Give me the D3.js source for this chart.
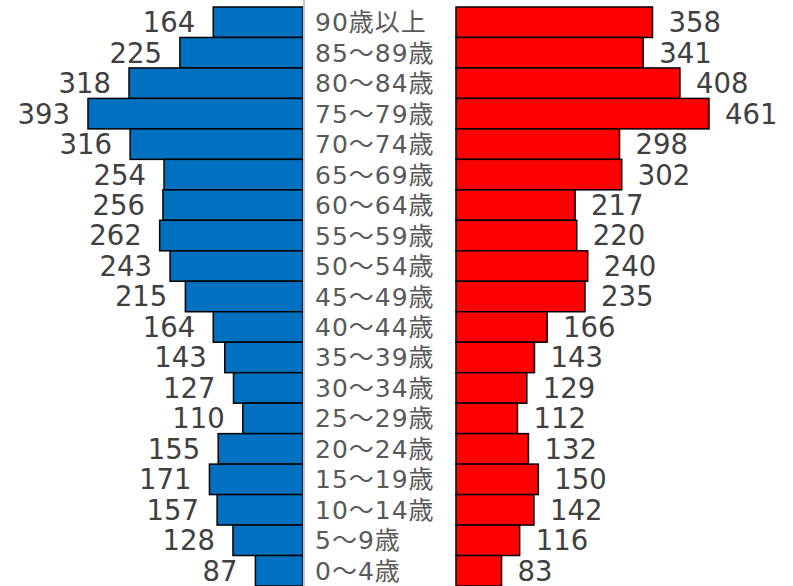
<!DOCTYPE html>
<html><head><meta charset="utf-8">
<script src="https://cdn.jsdelivr.net/npm/d3@7"></script>
<style>body{margin:0;background:#fff;}svg{display:block;}</style>
</head><body>
<script>
const categories = ["90歳以上","85～89歳","80～84歳","75～79歳","70～74歳","65～69歳","60～64歳","55～59歳","50～54歳","45～49歳","40～44歳","35～39歳","30～34歳","25～29歳","20～24歳","15～19歳","10～14歳","5～9歳","0～4歳"];
const male = [164,225,318,393,316,254,256,262,243,215,164,143,127,110,155,171,157,128,87];
const female = [358,341,408,461,298,302,217,220,240,235,166,143,129,112,132,150,142,116,83];

const W = 793, H = 586;
const svg = d3.select("body").append("svg").attr("width", W).attr("height", H);
const font = "'DejaVu Sans','Noto Sans CJK JP',sans-serif";

const y = d3.scaleBand().domain(categories).range([7, 586]).padding(0);
const xL = d3.scaleLinear().domain([0, 393]).range([303, 88]);
const xR = d3.scaleLinear().domain([0, 461]).range([456, 709]);

const rows = categories.map((c, i) => ({c, m: male[i], f: female[i]}));

svg.selectAll("rect.m").data(rows).join("rect").attr("class","m")
  .attr("x", d => xL(d.m)).attr("y", d => y(d.c))
  .attr("width", d => xL(0) - xL(d.m)).attr("height", y.bandwidth())
  .attr("fill", "#0070C0").attr("stroke", "#000").attr("stroke-width", 1.5);

svg.selectAll("rect.f").data(rows).join("rect").attr("class","f")
  .attr("x", xR(0)).attr("y", d => y(d.c))
  .attr("width", d => xR(d.f) - xR(0)).attr("height", y.bandwidth())
  .attr("fill", "#FF0000").attr("stroke", "#000").attr("stroke-width", 1.5);

svg.append("line").attr("x1", 304).attr("x2", 304).attr("y1", 0).attr("y2", H)
  .attr("stroke", "#c8c8c8").attr("stroke-width", 2);

svg.selectAll("text.mv").data(rows).join("text").attr("class","mv")
  .attr("x", d => xL(d.m) - 18).attr("y", d => y(d.c) + y.bandwidth()/2)
  .attr("dy", "0.36em").attr("text-anchor", "end")
  .attr("font-family", font).attr("font-size", 27.5).attr("fill", "#404040")
  .text(d => d.m);

svg.selectAll("text.fv").data(rows).join("text").attr("class","fv")
  .attr("x", d => xR(d.f) + 16).attr("y", d => y(d.c) + y.bandwidth()/2)
  .attr("dy", "0.36em").attr("text-anchor", "start")
  .attr("font-family", font).attr("font-size", 27.5).attr("fill", "#404040")
  .text(d => d.f);

svg.selectAll("text.cat").data(rows).join("text").attr("class","cat")
  .attr("x", 315).attr("y", d => y(d.c) + y.bandwidth()/2)
  .attr("dy", "0.36em").attr("text-anchor", "start")
  .attr("font-family", font).attr("font-size", 25).attr("letter-spacing", 1)
  .attr("fill", "#595959")
  .text(d => d.c);
</script>
</body></html>
